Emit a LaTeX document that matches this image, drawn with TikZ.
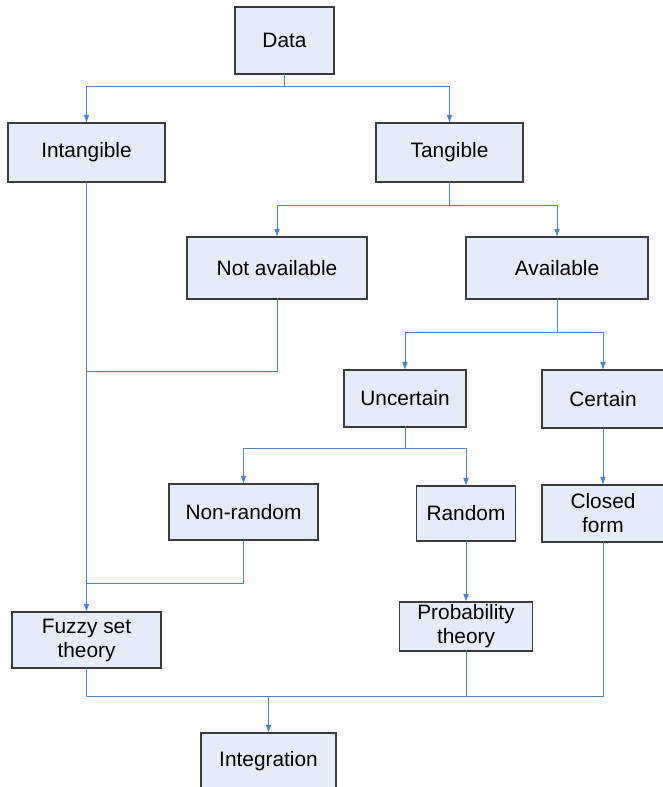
\documentclass[tikz,border=0pt]{standalone}
\usepackage{fontspec}
\setmainfont{Liberation Sans}
\usepackage{xcolor}
\usepackage{tikz}
\usetikzlibrary{positioning, arrows.meta}

\definecolor{boxfill}{HTML}{E6ECF7}
\definecolor{boxline}{HTML}{3C3C3C}
\definecolor{linkblue}{HTML}{4F82C8}

\tikzset{
  box/.style={draw=boxline, fill=boxfill, line width=0.9pt, inner sep=0pt, outer sep=0pt,
    align=center, font=\fontsize{17.8}{20.5}\selectfont},
  link/.style={draw=linkblue, line width=0.85pt},
  arrowlink/.style={link, -{Latex[length=7pt,width=5pt]}}
}

\begin{document}
\begin{tikzpicture}[x=0.03cm, y=-0.03cm]
  \useasboundingbox (0,0) rectangle (662,787);

  % boxes
  \node[box, minimum width=2.97cm, minimum height=2.01cm] (data) at (284.5,40.5) {Data};
  \node[box, minimum width=4.71cm, minimum height=1.77cm] (intang) at (86.5,152.5) {Intangible};
  \node[box, minimum width=4.41cm, minimum height=1.77cm] (tang) at (449.5,152.5) {Tangible};
  \node[box, minimum width=5.4cm, minimum height=1.86cm] (notavail) at (277,268) {Not available};
  \node[box, minimum width=5.46cm, minimum height=1.86cm] (avail) at (557,268) {Available};
  \node[box, minimum width=3.66cm, minimum height=1.71cm] (uncert) at (405,398.5) {Uncertain};
  \node[box, minimum width=3.66cm, minimum height=1.74cm] (cert) at (603,399) {Certain};
  \node[box, minimum width=4.47cm, minimum height=1.68cm] (nonrand) at (243.5,512) {Non-random};
  \node[box, minimum width=2.97cm, minimum height=1.65cm] (rand) at (466,513.5) {Random};
  \node[box, minimum width=3.66cm, minimum height=1.71cm] (closed) at (603,513.5) {Closed\\form};
  \node[box, minimum width=4.47cm, minimum height=1.68cm] (fuzzy) at (86.5,640) {Fuzzy set\\theory};
  \node[box, minimum width=3.99cm, minimum height=1.47cm] (prob) at (466,626.5) {Probability\\theory};
  \node[box, minimum width=4.05cm, minimum height=1.68cm] (integ) at (268.5,761) {Integration};

  % branch points
  \coordinate (sdata) at (284.5,86);
  \coordinate (stang) at (449.5,205);
  \coordinate (savail) at (557,332);
  \coordinate (suncert) at (405,448);
  \coordinate (jnot) at (86.5,371);
  \coordinate (jnonrand) at (86.5,583);
  \coordinate (jbottom) at (268.5,696);

  % splits
  \draw[link] (data.south) -- (sdata);
  \draw[arrowlink] (sdata) -| (intang.north);
  \draw[arrowlink] (sdata) -| (tang.north);
  \draw[link] (tang.south) -- (stang);
  \draw[arrowlink] (stang) -| (notavail.north);
  \draw[arrowlink] (stang) -| (avail.north);
  \draw[link] (avail.south) -- (savail);
  \draw[arrowlink] (savail) -| (uncert.north);
  \draw[arrowlink] (savail) -| (cert.north);
  \draw[link] (uncert.south) -- (suncert);
  \draw[arrowlink] (suncert) -| (nonrand.north);
  \draw[arrowlink] (suncert) -| (rand.north);
  \draw[arrowlink] (cert) -- (closed);
  \draw[arrowlink] (rand) -- (prob);

  % merges into fuzzy set theory
  \draw[arrowlink] (intang.south) -- (fuzzy.north);
  \draw[link] (notavail.south) |- (jnot);
  \draw[link] (nonrand.south) |- (jnonrand);

  % merges into integration
  \draw[link] (fuzzy.south) |- (jbottom);
  \draw[link] (prob.south) |- (jbottom);
  \draw[link] (closed.south) |- (jbottom);
  \draw[arrowlink] (jbottom) -- (integ.north);
\end{tikzpicture}
\end{document}
